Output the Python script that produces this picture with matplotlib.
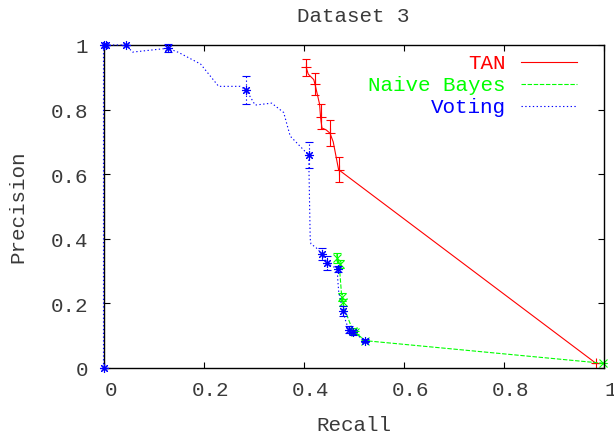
import matplotlib
matplotlib.use("Agg")
import matplotlib.pyplot as plt
import matplotlib.transforms as mtransforms
from matplotlib.lines import Line2D

# ---------------- data ----------------
series_names = ["TAN", "Naive Bayes", "Voting"]

# TAN curve (line vertices)
tan_line_recall = [0.405, 0.409, 0.420, 0.4225, 0.4317, 0.4337, 0.4365, 0.445, 0.4525, 0.459, 0.4697, 0.984]
tan_line_prec = [0.931, 0.910, 0.893, 0.879, 0.817, 0.776, 0.743, 0.737, 0.727, 0.700, 0.614, 0.0145]
# TAN points with error bars
tan_pt_recall = [0.405, 0.4225, 0.4337, 0.4525, 0.4697, 0.984]
tan_pt_prec = [0.931, 0.879, 0.778, 0.727, 0.614, 0.0145]
tan_pt_err = [0.027, 0.035, 0.038, 0.040, 0.039, 0.0]

# Naive Bayes curve
nb_line_recall = [0.466, 0.467, 0.4717, 0.472, 0.474, 0.476, 0.478, 0.486, 0.4983, 0.503, 0.523, 0.9987]
nb_line_prec = [0.352, 0.340, 0.322, 0.300, 0.260, 0.219, 0.203, 0.165, 0.115, 0.110, 0.0846, 0.0145]
nb_pt_recall = [0.467, 0.4717, 0.476, 0.478, 0.4983, 0.503, 0.523, 0.9987]
nb_pt_prec = [0.340, 0.322, 0.219, 0.203, 0.115, 0.110, 0.0846, 0.0145]
nb_pt_err = [0.016, 0.012, 0.012, 0.010, 0.008, 0.005, 0.003, 0.0]

# Voting curve
vote_line_recall = [0.0, 0.0, 0.004, 0.045, 0.058, 0.129, 0.150, 0.194, 0.230, 0.273, 0.285, 0.303,
                    0.336, 0.360, 0.373, 0.410, 0.413, 0.4145, 0.4245, 0.4365, 0.4465, 0.4677,
                    0.4677, 0.470, 0.4784, 0.483, 0.4897, 0.4983, 0.523]
vote_line_prec = [0.0, 1.0, 1.0, 1.0, 0.978, 0.990, 0.977, 0.941, 0.872, 0.872, 0.861, 0.814,
                  0.820, 0.791, 0.718, 0.659, 0.400, 0.384, 0.373, 0.353, 0.324, 0.3065,
                  0.280, 0.235, 0.177, 0.150, 0.1187, 0.110, 0.0846]
vote_pt_recall = [0.0, 0.0, 0.004, 0.045, 0.129, 0.285, 0.410, 0.4365, 0.4465, 0.4677, 0.4784, 0.4897, 0.4983, 0.523]
vote_pt_prec = [0.0, 1.0, 1.0, 1.0, 0.990, 0.861, 0.660, 0.353, 0.324, 0.3065, 0.177, 0.1187, 0.110, 0.0846]
vote_pt_err = [0.0, 0.0, 0.0, 0.0, 0.012, 0.044, 0.041, 0.020, 0.022, 0.010, 0.015, 0.010, 0.008, 0.005]

x_ticks = [0, 0.2, 0.4, 0.6, 0.8, 1]
x_tick_labels = ["0", "0.2", "0.4", "0.6", "0.8", "1"]
y_ticks = [0, 0.2, 0.4, 0.6, 0.8, 1]
y_tick_labels = ["0", "0.2", "0.4", "0.6", "0.8", "1"]

# ---------------- style ----------------
FONT = ["Liberation Mono", "DejaVu Sans Mono"]
FS = 15
TXT = "#3a3a3a"
RED, GREEN, BLUE = "#ff0000", "#00ff00", "#0000ff"

plt.rcParams["font.family"] = FONT

fig = plt.figure(figsize=(6.14, 4.39), dpi=100)
ax = fig.add_axes([103.5 / 614, 1 - 369 / 439, 500.5 / 614, 323 / 439])

lw = 0.8
GD = (0, (4, 1.5))
BD = (0, (1.2, 2.2))

# TAN
ax.plot(tan_line_recall, tan_line_prec, color=RED, lw=lw, ls="-", clip_on=False)
ax.errorbar(tan_pt_recall, tan_pt_prec, yerr=tan_pt_err, fmt="none", ecolor=RED,
            elinewidth=lw, capsize=3, capthick=lw, clip_on=False)
ax.plot(tan_pt_recall, tan_pt_prec, ls="none", marker="+", ms=7, mew=lw, color=RED, clip_on=False)

# Naive Bayes
ax.plot(nb_line_recall, nb_line_prec, color=GREEN, lw=lw, ls=GD, clip_on=False)
eb = ax.errorbar(nb_pt_recall, nb_pt_prec, yerr=nb_pt_err, fmt="none", ecolor=GREEN,
                 elinewidth=lw, capsize=3, capthick=lw, clip_on=False)
for c in eb[2]:
    c.set_linestyle(GD)
ax.plot(nb_pt_recall, nb_pt_prec, ls="none", marker="x", ms=6, mew=lw, color=GREEN, clip_on=False)

# Voting
ax.plot(vote_line_recall, vote_line_prec, color=BLUE, lw=lw, ls=BD, clip_on=False, zorder=3)
eb = ax.errorbar(vote_pt_recall, vote_pt_prec, yerr=vote_pt_err, fmt="none", ecolor=BLUE,
                 elinewidth=lw, capsize=3, capthick=lw, clip_on=False, zorder=3)
for c in eb[2]:
    c.set_linestyle(BD)
ax.plot(vote_pt_recall, vote_pt_prec, ls="none", marker=(8, 2, 0), ms=6.5, mew=lw,
        color=BLUE, clip_on=False, zorder=3)

ax.set_xlim(0, 1)
ax.set_ylim(0, 1)
ax.set_xticks(x_ticks)
ax.set_xticklabels(x_tick_labels)
ax.set_yticks(y_ticks)
ax.set_yticklabels(y_tick_labels)
ax.tick_params(direction="in", length=4, width=0.8, top=True, right=True,
               labelsize=FS, labelcolor=TXT, color="black")
ax.tick_params(axis="x", pad=9)
ax.tick_params(axis="y", pad=11)
for s in ax.spines.values():
    s.set_linewidth(1.0)
    s.set_color("black")
    s.set_zorder(2.5)

# gnuplot-like small right shift of x tick labels
offset = mtransforms.ScaledTranslation(7 / 100, 0, fig.dpi_scale_trans)
for lab in ax.get_xticklabels():
    lab.set_transform(lab.get_transform() + offset)

# legend (manual, gnuplot style)
colors = [RED, GREEN, BLUE]
styles = ["-", GD, BD]
base_y = [0.928, 0.860, 0.792]
line_y = [0.947, 0.879, 0.811]
for name, col, st, by, ly in zip(series_names, colors, styles, base_y, line_y):
    ax.text(0.804, by, name, transform=ax.transAxes, ha="right", va="baseline",
            fontsize=FS, color=col)
    ax.add_line(Line2D([0.834, 0.947], [ly, ly], transform=ax.transAxes,
                       color=col, lw=lw, ls=st))

fig.text(353.5 / 614, 1 - 21.7 / 439, "Dataset 3", ha="center", va="baseline",
         fontsize=FS, color=TXT)
fig.text(353.5 / 614, 1 - 430.7 / 439, "Recall", ha="center", va="baseline",
         fontsize=FS, color=TXT)
fig.text(17.5 / 614, 1 - 207 / 439, "Precision", ha="center", va="center",
         rotation=90, fontsize=FS, color=TXT)

fig.savefig("out.png", dpi=100)
